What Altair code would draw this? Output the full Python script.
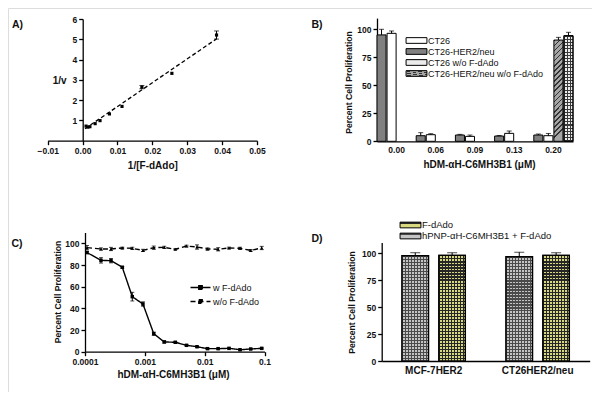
import altair as alt
import pandas as pd

# ---------------- data ----------------
# Panel A: double-reciprocal plot
A_x = [0.0010, 0.0015, 0.0021, 0.0036, 0.0050, 0.0077, 0.0113, 0.0170, 0.0256, 0.0384]
A_y = [0.72, 0.67, 0.69, 0.84, 0.99, 1.32, 1.69, 2.64, 3.32, 5.21]
A_err = [0, 0, 0, 0, 0, 0, 0, 0.08, 0, 0.20]
A_fit_x = [0.0007, 0.0384]
A_fit_y = [0.59, 5.02]
A_xticks = [-0.01, 0.0, 0.01, 0.02, 0.03, 0.04, 0.05]
A_yticks = [1, 2, 3, 4, 5, 6]

# Panel B: grouped bars
B_conc = ["0.00", "0.06", "0.09", "0.13", "0.20"]
B_legend = ["CT26", "CT26-HER2/neu", "CT26 w/o F-dAdo", "CT26-HER2/neu w/o F-dAdo"]
B_bar_order = ["CT26-HER2/neu", "CT26", "CT26-HER2/neu w/o F-dAdo", "CT26 w/o F-dAdo"]
B_her2 = [95.0, 5.0, 5.6, 4.7, 5.6]
B_her2_err = [5.0, 2.7, 0.6, 0.5, 0.9]
B_ct26 = [96.4, 5.9, 4.4, 7.1, 5.0]
B_ct26_err = [2.1, 0.9, 1.2, 2.1, 2.0]
B_wo_conc = ["0.20"]
B_her2_wo = [90.4]
B_her2_wo_err = [2.4]
B_ct26_wo = [94.3]
B_ct26_wo_err = [3.0]
B_yticks = [0, 25, 50, 75, 100]

# Panel C: dose response
C_x = [0.000108, 0.000185, 0.000272, 0.00042, 0.000617, 0.00093, 0.00141, 0.00211,
       0.00323, 0.00497, 0.00745, 0.01115, 0.0168, 0.0255, 0.039, 0.0588, 0.0898]
C_w = [91.5, 84.3, 84.0, 77.9, 50.8, 44.0, 16.6, 9.0, 8.7, 5.9, 4.6, 2.8, 2.8, 3.1, 1.8, 2.5, 3.1]
C_w_err = [1.0, 2.5, 2.0, 0.8, 4.0, 2.0, 1.5, 1.0, 0.5, 0.5, 0.5, 0.5, 0.5, 0.5, 0.5, 0.5, 0.5]
C_wo = [96.0, 94.8, 94.8, 95.7, 95.4, 93.5, 96.0, 96.3, 94.5, 97.5, 96.6, 94.8, 94.5, 95.7, 95.4, 93.5, 95.7]
C_wo_err = [2.0, 1.0, 1.5, 0.8, 1.0, 1.0, 1.5, 1.0, 0.5, 0.8, 2.0, 1.0, 1.5, 0.8, 1.0, 0.8, 1.5]
C_series = ["w F-dAdo", "w/o F-dAdo"]
C_xticks = [0.0001, 0.001, 0.01, 0.1]
C_yticks = [0, 20, 40, 60, 80, 100]

# Panel D
D_cells = ["MCF-7HER2", "CT26HER2/neu"]
D_legend = ["F-dAdo", "hPNP-\u03b1H-C6MH3B1 + F-dAdo"]
D_bar_order = ["hPNP-\u03b1H-C6MH3B1 + F-dAdo", "F-dAdo"]
D_hpnp = [97.8, 96.9]
D_hpnp_err = [2.7, 4.1]
D_fdado = [98.1, 98.1]
D_fdado_err = [2.4, 2.4]
D_yticks = [0, 25, 50, 75, 100]

# ---------------- layout helpers ----------------
FONT = "Liberation Sans"
W, H = 584, 384
M = 8
CLEAR = "rgba(0,0,0,0)"


def px(v):
    return v - M


def axis(orient, offset, **kw):
    base = dict(orient=orient, offset=offset, grid=False, domainColor="black", domainWidth=1.3,
                tickColor="black", tickWidth=1.3, tickSize=4, labelFont=FONT, labelFontSize=8.5,
                labelFontWeight="bold", labelColor="#111", titleFont=FONT, titleFontWeight="bold",
                titleColor="#111", labelPadding=2, labelOverlap=False, labelFlush=False)
    base.update(kw)
    return alt.Axis(**base)


def legend(x, y, **kw):
    base = dict(orient="none", legendX=x, legendY=y, title=None, padding=0, offset=0,
                labelFont=FONT, labelFontSize=9, labelColor="#111", rowPadding=0,
                symbolStrokeColor="black", symbolStrokeWidth=1)
    base.update(kw)
    return alt.Legend(**base)


def stripe_stops(dark, light, period, frac):
    stops = []
    k = 0
    while k * period < 1.0:
        o0 = k * period
        o1 = min(1.0, o0 + frac * period)
        o2 = min(1.0, o0 + period)
        stops += [(o0, dark), (o1, dark), (o1, light), (o2, light)]
        k += 1
    return stops


def stripes_expr(dark, light, period, frac, x2, y2):
    """striped fill as a Vega linear-gradient expression (usable in a scale range)"""
    s = ",".join("{offset:%.4f,color:'%s'}" % (o, c) for o, c in stripe_stops(dark, light, period, frac))
    return alt.ExprRef(expr="{gradient:'linear',x1:0,y1:0,x2:%g,y2:%g,stops:[%s]}" % (x2, y2, s))


def stripes_grad(dark, light, period, frac, x2, y2):
    return alt.LinearGradient(gradient="linear", x1=0, y1=0, x2=x2, y2=y2,
                              stops=[alt.GradientStop(offset=o, color=c)
                                     for o, c in stripe_stops(dark, light, period, frac)])


# ---------------- panel A ----------------
dfA = pd.DataFrame({"x": A_x, "y": A_y, "err": A_err})
dfA["lo"] = dfA["y"] - dfA["err"]
dfA["hi"] = dfA["y"] + dfA["err"]
dfAfit = pd.DataFrame({"x": A_fit_x, "y": A_fit_y})

xA = alt.X("x:Q", scale=alt.Scale(domain=[-0.01, 0.05], range=[px(47.7), px(257)], nice=False, zero=False),
           axis=axis("bottom", px(140.7) - H, values=A_xticks, format=".2f", title="1/[F-dAdo]",
                     titleFontSize=10, titleBaseline="middle", titleY=25))
yA = alt.Y("y:Q", scale=alt.Scale(domain=[0, 6], range=[px(140.7), px(19)], nice=False),
           axis=axis("left", -px(82.7), values=A_yticks, format="d", title="1/v", titleFontSize=10, titleAngle=0,
                     titleX=-23.5, titleY=px(80), titleAlign="center", titleBaseline="middle"))

A_pts = alt.Chart(dfA).mark_point(filled=True, shape="square", size=10, color="black", opacity=1).encode(x=xA, y=yA)
A_fit = alt.Chart(dfAfit).mark_line(color="black", strokeDash=[4, 2.5], strokeWidth=1.3).encode(x=xA, y=yA)
dfAe = dfA[dfA["err"] > 0]
A_rule = alt.Chart(dfAe).mark_rule(color="black", strokeWidth=1).encode(x=xA, y="lo:Q", y2="hi:Q")
A_cap1 = alt.Chart(dfAe).mark_tick(color="black", orient="horizontal", size=5, thickness=1).encode(x=xA, y="hi:Q")
A_cap2 = alt.Chart(dfAe).mark_tick(color="black", orient="horizontal", size=5, thickness=1).encode(x=xA, y="lo:Q")
panelA = alt.layer(A_fit, A_rule, A_cap1, A_cap2, A_pts)

# ---------------- panel B ----------------
rows = []
for c, v, e in zip(B_conc, B_her2, B_her2_err):
    rows.append({"conc": c, "series": "CT26-HER2/neu", "v": v, "hi": v + e})
for c, v, e in zip(B_conc, B_ct26, B_ct26_err):
    rows.append({"conc": c, "series": "CT26", "v": v, "hi": v + e})
for c, v, e in zip(B_wo_conc, B_her2_wo, B_her2_wo_err):
    rows.append({"conc": c, "series": "CT26-HER2/neu w/o F-dAdo", "v": v, "hi": v + e})
for c, v, e in zip(B_wo_conc, B_ct26_wo, B_ct26_wo_err):
    rows.append({"conc": c, "series": "CT26 w/o F-dAdo", "v": v, "hi": v + e})
dfB = pd.DataFrame(rows)

xB = alt.X("conc:N", scale=alt.Scale(domain=B_conc, range=[px(377), px(573)], paddingInner=0, paddingOuter=0),
           axis=axis("bottom", px(141.3) - H, ticks=False, labelAngle=0, labelPadding=4,
                     title="hDM-\u03b1H-C6MH3B1 (\u03bcM)", titleFontSize=10, titleBaseline="middle",
                     titleY=22.7, titleX=px(479)))
xoB = alt.XOffset("series:N", scale=alt.Scale(domain=B_bar_order, paddingInner=0.1, paddingOuter=0))
yB = alt.Y("v:Q", scale=alt.Scale(domain=[0, 110], range=[px(141.3), px(18.1)], nice=False),
           axis=axis("left", -px(377), values=B_yticks, title="Percent Cell Proliferation", titleFontSize=8.6,
                     titleAngle=-90, titleX=-29, titleY=px(82), titleAlign="center", titleBaseline="middle"))
B_path = "M-2.2,-0.6H2.2V0.6H-2.2Z"
B_colors = ["#ffffff", "#808080",
            stripes_expr("#3a3a3a", "#ececec", period=0.03, frac=0.35, x2=0, y2=1),
            stripes_expr("#333333", "#a6a6a6", period=0.05, frac=0.32, x2=0.09, y2=1)]
cB = alt.Color("series:N", scale=alt.Scale(domain=B_legend, range=B_colors),
               legend=legend(px(411), px(35), symbolType=B_path, symbolSize=90, labelOffset=6))

B_bars = alt.Chart(dfB).mark_bar(stroke="black", strokeWidth=1).encode(x=xB, xOffset=xoB, y=yB, color=cB)
B_check = alt.Chart(dfB).transform_filter(alt.datum.series == "CT26 w/o F-dAdo").mark_bar(
    fill=stripes_grad("#3a3a3a", CLEAR, period=0.34, frac=0.32, x2=1, y2=0), stroke="black", strokeWidth=1
).encode(x=xB, xOffset=xoB, y=yB)
B_rule = alt.Chart(dfB).mark_rule(color="black", strokeWidth=1).encode(x=xB, xOffset=xoB, y="v:Q", y2="hi:Q")
B_cap = alt.Chart(dfB).mark_tick(color="black", orient="horizontal", size=5, thickness=1).encode(x=xB, xOffset=xoB, y="hi:Q")
panelB = alt.layer(B_bars, B_check, B_rule, B_cap)

# ---------------- panel C ----------------
rowsC = []
for x, v, e in zip(C_x, C_w, C_w_err):
    rowsC.append({"x": x, "series": C_series[0], "v": v, "lo": v - e, "hi": v + e})
for x, v, e in zip(C_x, C_wo, C_wo_err):
    rowsC.append({"x": x, "series": C_series[1], "v": v, "lo": v - e, "hi": v + e})
dfC = pd.DataFrame(rowsC)

xC = alt.X("x:Q", scale=alt.Scale(type="log", domain=[0.0001, 0.1], range=[px(85), px(264.5)], nice=False),
           axis=axis("bottom", px(351.7) - H, values=C_xticks, format="~g",
                     title="hDM-\u03b1H-C6MH3B1 (\u03bcM)", titleFontSize=10, titleBaseline="middle",
                     titleY=22.6, titleX=px(173)))
yC = alt.Y("v:Q", scale=alt.Scale(domain=[0, 110], range=[px(351.7), px(232.5)], nice=False),
           axis=axis("left", -px(85), values=C_yticks, title="Percent Cell Proliferation", titleFontSize=8.6,
                     titleAngle=-90, titleX=-28, titleY=px(291.5), titleAlign="center", titleBaseline="middle"))
C_path = "M-2,0H2M-0.35,-0.35H0.35V0.35H-0.35Z"
dC = alt.StrokeDash("series:N", scale=alt.Scale(domain=C_series, range=[[1, 0], [5, 3]]),
                    legend=legend(px(194.5), px(281.5), symbolType=C_path, symbolSize=100, labelOffset=6.5,
                                  rowPadding=3, symbolFillColor="black", symbolStrokeWidth=1.3))
C_line = alt.Chart(dfC).mark_line(color="black", strokeWidth=1.4).encode(x=xC, y=yC, strokeDash=dC, detail="series:N")
C_pts_w = alt.Chart(dfC).transform_filter(alt.datum.series == C_series[0]).mark_point(
    filled=True, color="black", size=12, opacity=1, shape="square").encode(x=xC, y=yC)
C_pts_wo = alt.Chart(dfC).transform_filter(alt.datum.series == C_series[1]).mark_point(
    filled=True, color="black", size=12, opacity=1, shape="triangle-up").encode(x=xC, y=yC)
C_rule = alt.Chart(dfC).mark_rule(color="black", strokeWidth=1).encode(x=xC, y="lo:Q", y2="hi:Q")
C_cap1 = alt.Chart(dfC).mark_tick(color="black", orient="horizontal", size=4, thickness=1).encode(x=xC, y="hi:Q")
C_cap2 = alt.Chart(dfC).mark_tick(color="black", orient="horizontal", size=4, thickness=1).encode(x=xC, y="lo:Q")
panelC = alt.layer(C_line, C_rule, C_cap1, C_cap2, C_pts_w, C_pts_wo)

# ---------------- panel D ----------------
rowsD = []
for c, v, e in zip(D_cells, D_hpnp, D_hpnp_err):
    rowsD.append({"cell": c, "series": D_bar_order[0], "v": v, "hi": v + e})
for c, v, e in zip(D_cells, D_fdado, D_fdado_err):
    rowsD.append({"cell": c, "series": D_bar_order[1], "v": v, "hi": v + e})
dfD = pd.DataFrame(rowsD)

xD = alt.X("cell:N", scale=alt.Scale(domain=D_cells, range=[px(381.7), px(589.7)], paddingInner=0, paddingOuter=0),
           axis=axis("bottom", px(361) - H, ticks=False, labelAngle=0, labelFontSize=10, labelPadding=4, title=None))
xoD = alt.XOffset("series:N", scale=alt.Scale(domain=D_bar_order, paddingInner=0.28, paddingOuter=0.55))
yD = alt.Y("v:Q", scale=alt.Scale(domain=[0, 110], range=[px(361), px(242.5)], nice=False),
           axis=axis("left", -px(381.7), values=D_yticks, title="Percent Cell Proliferation", titleFontSize=8.6,
                     titleAngle=-90, titleX=-30, titleY=px(302), titleAlign="center", titleBaseline="middle"))
D_colors = [stripes_expr("#262626", "#d8d880", period=0.0286, frac=0.38, x2=0, y2=1),
            stripes_expr("#4a4a4a", "#c4c4c4", period=0.0286, frac=0.38, x2=0, y2=1)]
cD = alt.Color("series:N", scale=alt.Scale(domain=D_legend, range=D_colors),
               legend=legend(px(405), px(219.5), symbolType=B_path, symbolSize=90, labelOffset=6,
                             labelFontSize=9.5))
D_bars = alt.Chart(dfD).mark_bar(stroke="black", strokeWidth=1.2).encode(x=xD, xOffset=xoD, y=yD, color=cD)
D_grid_y = alt.Chart(dfD).transform_filter(alt.datum.series == "F-dAdo").mark_bar(
    fill=stripes_grad("#262626", CLEAR, period=0.113, frac=0.35, x2=1, y2=0), stroke="black", strokeWidth=1.2
).encode(x=xD, xOffset=xoD, y=yD)
D_grid_g = alt.Chart(dfD).transform_filter(alt.datum.series != "F-dAdo").mark_bar(
    fill=stripes_grad("#4a4a4a", CLEAR, period=0.113, frac=0.35, x2=1, y2=0), stroke="black", strokeWidth=1.2
).encode(x=xD, xOffset=xoD, y=yD)
D_rule = alt.Chart(dfD).mark_rule(color="black", strokeWidth=1).encode(x=xD, xOffset=xoD, y="v:Q", y2="hi:Q")
D_cap = alt.Chart(dfD).mark_tick(color="black", orient="horizontal", size=10, thickness=1).encode(x=xD, xOffset=xoD, y="hi:Q")
panelD = alt.layer(D_bars, D_grid_y, D_grid_g, D_rule, D_cap)

# ---------------- panel labels ----------------
labels = []
for t, x, y in [("A)", 17.5, 24.5), ("B)", 317, 24.5), ("C)", 17, 243.5), ("D)", 317, 238.5)]:
    labels.append(alt.Chart(pd.DataFrame({"t": [t]})).mark_text(
        font=FONT, fontSize=10.5, fontWeight="bold", color="#111", align="center", baseline="middle"
    ).encode(text="t:N", x=alt.value(px(x)), y=alt.value(px(y))))

chart = alt.layer(panelA, panelB, panelC, panelD, *labels).resolve_scale(
    x="independent", y="independent", color="independent", xOffset="independent",
    strokeDash="independent"
).resolve_axis(x="independent", y="independent").resolve_legend(
    color="independent", strokeDash="independent"
).properties(
    width=W, height=H, autosize=alt.AutoSizeParams(type="none"), padding=0
).configure_view(stroke=None).configure(background="white")

chart.save("out.html", embed_options={"renderer": "svg", "actions": False})
